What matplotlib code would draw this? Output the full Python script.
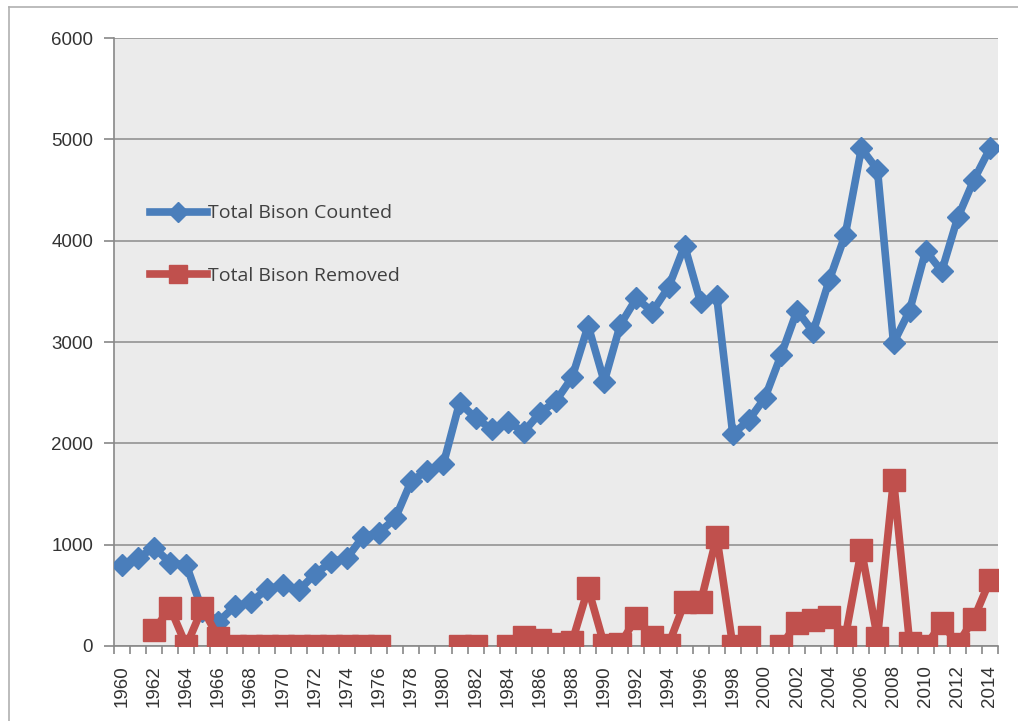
import numpy as np
import matplotlib
matplotlib.use('Agg')
import matplotlib.pyplot as plt
from matplotlib.lines import Line2D

years = list(range(1960, 2015))

# Total Bison Counted, 1960-2014
counted = [800, 870, 970, 820, 800, 350, 240, 390, 430, 560,
           600, 550, 710, 830, 870, 1080, 1120, 1260, 1630, 1730,
           1800, 2400, 2250, 2140, 2210, 2115, 2300, 2420, 2650, 3160,
           2610, 3170, 3430, 3300, 3540, 3950, 3390, 3450, 2090, 2230,
           2450, 2870, 3310, 3100, 3610, 4060, 4910, 4700, 2990, 3310,
           3900, 3700, 4230, 4600, 4910]

# Total Bison Removed (None = no record)
removed = [None, None, 160, 375, 0, 375, 80, 0, 0, 0,
           0, 0, 0, 0, 0, 0, 0, None, None, None,
           None, 0, 0, None, 0, 90, 60, 20, 40, 570,
           10, 20, 280, 90, 10, 430, 430, 1080, 0, 90,
           None, 0, 225, 255, 290, 90, 950, 80, 1640, 30,
           0, 225, 20, 270, 650]

yticks = [0, 1000, 2000, 3000, 4000, 5000, 6000]

blue = '#4A7EBB'
red = '#C0504D'

x = np.arange(len(years))
rem = np.array([np.nan if v is None else v for v in removed], dtype=float)

fig = plt.figure(figsize=(10.18, 7.21), dpi=100)
ax = fig.add_axes([114 / 1018, 1 - 646 / 721, (998 - 114) / 1018, (646 - 38) / 721])
ax.set_facecolor('#EBEBEB')

# light frame around the chart area
fig.add_artist(Line2D([9 / 1018, 9 / 1018], [0, 1 - 7 / 721], transform=fig.transFigure,
                      color='#B0B0B0', lw=1.2))
fig.add_artist(Line2D([9 / 1018, 1], [1 - 7 / 721, 1 - 7 / 721], transform=fig.transFigure,
                      color='#B0B0B0', lw=1.2))

ax.plot(x, counted, color=blue, lw=5.5, marker='D', markersize=11.5,
        markerfacecolor=blue, markeredgecolor=blue, label='Total Bison Counted', zorder=3)
ax.plot(x, rem, color=red, lw=5.5, marker='s', markersize=16,
        markerfacecolor=red, markeredgecolor=red, label='Total Bison Removed', zorder=4)

ax.set_xlim(-0.5, len(years) - 0.5)
ax.set_ylim(0, 6000)
ax.set_yticks(yticks)
ax.set_yticklabels([str(v) for v in yticks], fontsize=13.5, family='Liberation Sans', color='#333333')
ax.yaxis.grid(True, color='#9A9A9A', lw=1.3)
ax.set_axisbelow(True)

major = [i for i, yr in enumerate(years) if yr % 2 == 0]
ax.set_xticks(major)
ax.set_xticklabels([str(years[i]) for i in major], rotation=90, fontsize=13.5,
                   family='Liberation Sans', color='#333333')
ax.set_xticks(np.arange(-0.5, len(years)), minor=True)
ax.tick_params(axis='x', which='major', length=0, pad=14)
ax.tick_params(axis='x', which='minor', length=6, color='#888888', width=1.2)
ax.tick_params(axis='y', length=7, color='#888888', width=1.2, pad=8)

for s in ['top', 'right']:
    ax.spines[s].set_visible(False)
ax.spines['left'].set_color('#888888')
ax.spines['left'].set_linewidth(1.2)
ax.spines['bottom'].set_color('#888888')
ax.spines['bottom'].set_linewidth(1.2)

leg = ax.legend(loc='center left', bbox_to_anchor=(0.041, 0.66), frameon=False,
                prop={'family': 'Open Sans', 'size': 14}, labelspacing=2.3,
                handlelength=2.9, handletextpad=0.05, markerscale=0.85,
                borderpad=0, borderaxespad=0)
for t in leg.get_texts():
    t.set_color('#404040')

plt.savefig('out.png', dpi=100)
